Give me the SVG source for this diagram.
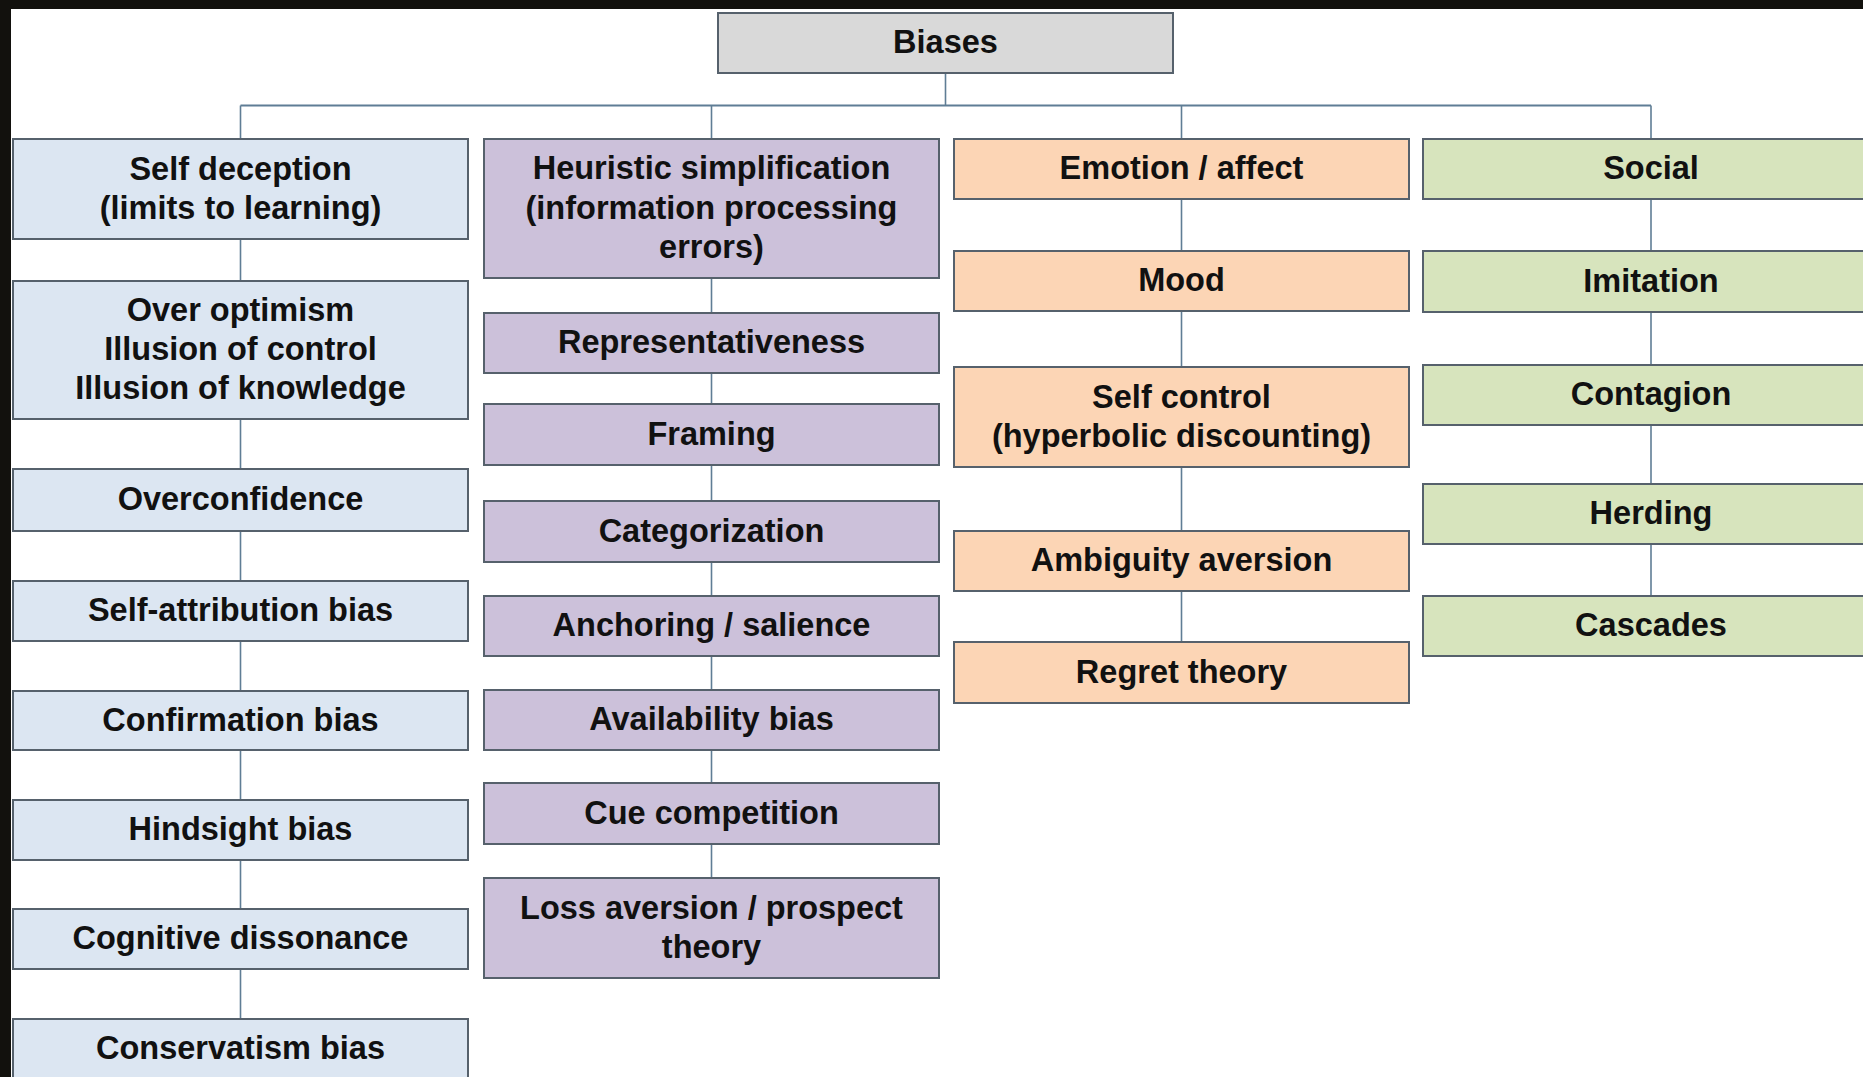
<svg xmlns="http://www.w3.org/2000/svg" width="1863" height="1077" viewBox="0 0 1863 1077">
<style>
.box{stroke:#56616c;stroke-width:2}
.root{fill:#d9d9d9}
.c1{fill:#dce6f2}
.c2{fill:#ccc1da}
.c3{fill:#fcd5b5}
.c4{fill:#d7e4bd}
text{font-family:"Liberation Sans",Arial,sans-serif;font-weight:bold;font-size:32.5px;fill:#111;text-anchor:middle}
.conn line{stroke:#5f7d95;stroke-width:1.6}
</style>
<rect x="0" y="0" width="1863" height="1077" fill="#ffffff"/>
<rect x="0" y="0" width="1863" height="9" fill="#12110d"/>
<rect x="0" y="0" width="11" height="1077" fill="#12110d"/>
<g class="conn" id="connectors">
<line x1="945.5" y1="73" x2="945.5" y2="105.5"/>
<line x1="240.5" y1="105.5" x2="1651" y2="105.5" style="stroke-width:2.2"/>
<line x1="240.5" y1="105.5" x2="240.5" y2="139"/>
<line x1="711.5" y1="105.5" x2="711.5" y2="139"/>
<line x1="1181.5" y1="105.5" x2="1181.5" y2="139"/>
<line x1="1651" y1="105.5" x2="1651" y2="139"/>
<line x1="240.5" y1="239" x2="240.5" y2="281"/>
<line x1="240.5" y1="419" x2="240.5" y2="469"/>
<line x1="240.5" y1="531" x2="240.5" y2="581"/>
<line x1="240.5" y1="641" x2="240.5" y2="691"/>
<line x1="240.5" y1="750" x2="240.5" y2="800"/>
<line x1="240.5" y1="860" x2="240.5" y2="909"/>
<line x1="240.5" y1="969" x2="240.5" y2="1019"/>
<line x1="711.5" y1="278" x2="711.5" y2="313"/>
<line x1="711.5" y1="373" x2="711.5" y2="404"/>
<line x1="711.5" y1="465" x2="711.5" y2="501"/>
<line x1="711.5" y1="562" x2="711.5" y2="596"/>
<line x1="711.5" y1="656" x2="711.5" y2="690"/>
<line x1="711.5" y1="750" x2="711.5" y2="783"/>
<line x1="711.5" y1="844" x2="711.5" y2="878"/>
<line x1="1181.5" y1="199" x2="1181.5" y2="251"/>
<line x1="1181.5" y1="311" x2="1181.5" y2="367"/>
<line x1="1181.5" y1="467" x2="1181.5" y2="531"/>
<line x1="1181.5" y1="591" x2="1181.5" y2="642"/>
<line x1="1651" y1="199" x2="1651" y2="251"/>
<line x1="1651" y1="312" x2="1651" y2="365"/>
<line x1="1651" y1="425" x2="1651" y2="484"/>
<line x1="1651" y1="544" x2="1651" y2="596"/>
</g>
<g id="n-biases"><rect class="box root" x="718" y="13" width="455" height="60"/><text x="945.5" y="53">Biases</text></g>

<g id="n-self-deception"><rect class="box c1" x="13" y="139" width="455" height="100"/><text x="240.5" y="179.5">Self deception</text><text x="240.5" y="218.5">(limits to learning)</text></g>
<g id="n-over-optimism"><rect class="box c1" x="13" y="281" width="455" height="138"/><text x="240.5" y="321">Over optimism</text><text x="240.5" y="360">Illusion of control</text><text x="240.5" y="399">Illusion of knowledge</text></g>
<g id="n-overconfidence"><rect class="box c1" x="13" y="469" width="455" height="62"/><text x="240.5" y="510">Overconfidence</text></g>
<g id="n-self-attribution"><rect class="box c1" x="13" y="581" width="455" height="60"/><text x="240.5" y="621">Self-attribution bias</text></g>
<g id="n-confirmation"><rect class="box c1" x="13" y="691" width="455" height="59"/><text x="240.5" y="730.5">Confirmation bias</text></g>
<g id="n-hindsight"><rect class="box c1" x="13" y="800" width="455" height="60"/><text x="240.5" y="840">Hindsight bias</text></g>
<g id="n-cognitive"><rect class="box c1" x="13" y="909" width="455" height="60"/><text x="240.5" y="949">Cognitive dissonance</text></g>
<g id="n-conservatism"><rect class="box c1" x="13" y="1019" width="455" height="70"/><text x="240.5" y="1059">Conservatism bias</text></g>

<g id="n-heuristic"><rect class="box c2" x="484" y="139" width="455" height="139"/><text x="711.5" y="179">Heuristic simplification</text><text x="711.5" y="218.5">(information processing</text><text x="711.5" y="258">errors)</text></g>
<g id="n-representativeness"><rect class="box c2" x="484" y="313" width="455" height="60"/><text x="711.5" y="353">Representativeness</text></g>
<g id="n-framing"><rect class="box c2" x="484" y="404" width="455" height="61"/><text x="711.5" y="444.5">Framing</text></g>
<g id="n-categorization"><rect class="box c2" x="484" y="501" width="455" height="61"/><text x="711.5" y="541.5">Categorization</text></g>
<g id="n-anchoring"><rect class="box c2" x="484" y="596" width="455" height="60"/><text x="711.5" y="636">Anchoring / salience</text></g>
<g id="n-availability"><rect class="box c2" x="484" y="690" width="455" height="60"/><text x="711.5" y="730">Availability bias</text></g>
<g id="n-cue"><rect class="box c2" x="484" y="783" width="455" height="61"/><text x="711.5" y="823.5">Cue competition</text></g>
<g id="n-loss"><rect class="box c2" x="484" y="878" width="455" height="100"/><text x="711.5" y="918.5">Loss aversion / prospect</text><text x="711.5" y="957.5">theory</text></g>

<g id="n-emotion"><rect class="box c3" x="954" y="139" width="455" height="60"/><text x="1181.5" y="179">Emotion / affect</text></g>
<g id="n-mood"><rect class="box c3" x="954" y="251" width="455" height="60"/><text x="1181.5" y="291">Mood</text></g>
<g id="n-self-control"><rect class="box c3" x="954" y="367" width="455" height="100"/><text x="1181.5" y="407.5">Self control</text><text x="1181.5" y="446.5">(hyperbolic discounting)</text></g>
<g id="n-ambiguity"><rect class="box c3" x="954" y="531" width="455" height="60"/><text x="1181.5" y="571">Ambiguity aversion</text></g>
<g id="n-regret"><rect class="box c3" x="954" y="642" width="455" height="61"/><text x="1181.5" y="682.5">Regret theory</text></g>

<g id="n-social"><rect class="box c4" x="1423" y="139" width="456" height="60"/><text x="1651" y="179">Social</text></g>
<g id="n-imitation"><rect class="box c4" x="1423" y="251" width="456" height="61"/><text x="1651" y="291.5">Imitation</text></g>
<g id="n-contagion"><rect class="box c4" x="1423" y="365" width="456" height="60"/><text x="1651" y="405">Contagion</text></g>
<g id="n-herding"><rect class="box c4" x="1423" y="484" width="456" height="60"/><text x="1651" y="524">Herding</text></g>
<g id="n-cascades"><rect class="box c4" x="1423" y="596" width="456" height="60"/><text x="1651" y="636">Cascades</text></g>
</svg>
